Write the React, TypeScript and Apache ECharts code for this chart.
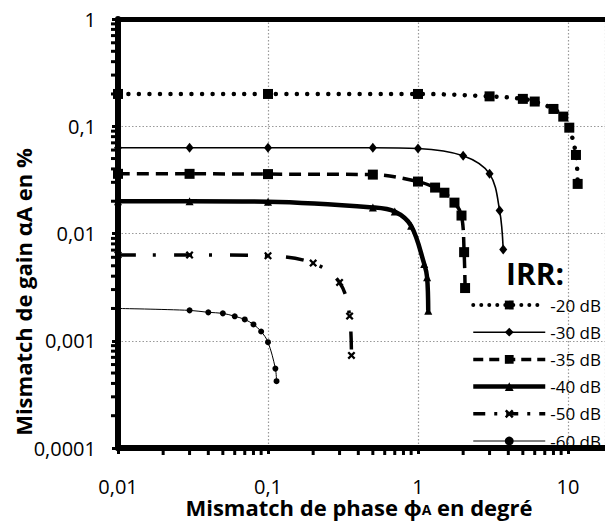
import React, { useEffect, useRef } from 'react';
import * as echarts from 'echarts';

// ---------- data ----------
const seriesNames = ['-20 dB', '-30 dB', '-35 dB', '-40 dB', '-50 dB', '-60 dB'];

const irr20X = [0.01, 0.1, 1, 3, 5, 6, 8, 9.3, 10.2, 11.3, 11.6];
const irr20Y = [0.2, 0.2, 0.2, 0.19, 0.18, 0.17, 0.145, 0.123, 0.097, 0.054, 0.029];

const irr30X = [0.01, 0.03, 0.1, 0.5, 1, 2, 3, 3.5, 3.7];
const irr30Y = [0.063, 0.063, 0.063, 0.063, 0.062, 0.053, 0.036, 0.0164, 0.0071];

const irr35X = [0.01, 0.03, 0.1, 0.5, 1, 1.3, 1.5, 1.75, 1.95, 2.03, 2.06];
const irr35Y = [0.036, 0.036, 0.0358, 0.0354, 0.0305, 0.0268, 0.024, 0.0194, 0.0147, 0.0067, 0.0031];

const irr40X = [0.01, 0.03, 0.1, 0.5, 0.7, 0.9, 1.1, 1.15, 1.17];
const irr40Y = [0.02, 0.02, 0.0198, 0.0175, 0.016, 0.0118, 0.0052, 0.0039, 0.0019];

const irr50X = [0.01, 0.03, 0.1, 0.2, 0.3, 0.35, 0.36];
const irr50Y = [0.0063, 0.0063, 0.0062, 0.0053, 0.0035, 0.0017, 0.00073];

const irr60X = [0.01, 0.03, 0.04, 0.05, 0.06, 0.07, 0.08, 0.09, 0.1, 0.112, 0.114];
const irr60Y = [0.002, 0.00192, 0.00184, 0.0018, 0.00169, 0.00158, 0.00142, 0.00122, 0.00097, 0.00055, 0.00042];

const xTickLabels = ['0,01', '0,1', '1', '10']; // decades 10^-2 .. 10^1
const yTickLabels = ['0,0001', '0,001', '0,01', '0,1', '1']; // decades 10^-4 .. 10^0

const xMinorTicks = [0.02, 0.03, 0.04, 0.05, 0.06, 0.07, 0.08, 0.09, 0.2, 0.3, 0.4, 0.5, 0.6, 0.7, 0.8, 0.9, 2, 3, 4, 5, 6, 7, 8, 9];
const yMinorTicks = [0.0002, 0.0003, 0.0004, 0.0005, 0.0006, 0.0007, 0.0008, 0.0009, 0.002, 0.003, 0.004, 0.005, 0.006, 0.007, 0.008, 0.009, 0.02, 0.03, 0.04, 0.05, 0.06, 0.07, 0.08, 0.09, 0.2, 0.3, 0.4, 0.5, 0.6, 0.7, 0.8, 0.9];

const xMin = 0.01;
const yMin = 0.0001;
const yMax = 1;

// ---------- layout ----------
const W = 605;
const H = 521;
const gridLeft = 118;
const gridTop = 19;
const gridBottomPx = 448;
const decadeX = 150;
const xMax = Math.pow(10, Math.log10(xMin) + (W - gridLeft) / decadeX);

const FONT = '"Open Sans", "Noto Sans", sans-serif';

function decadeLabel(v: number, labels: string[], minExp: number): string {
  const e = Math.log10(v);
  const r = Math.round(e);
  if (Math.abs(e - r) > 1e-6) return '';
  return labels[r - minExp] ?? '';
}

function zip(xs: number[], ys: number[]) {
  return xs.map((x, i) => [x, ys[i]]);
}

const crossPath = 'path://M2,0 L5,3 L8,0 L10,2 L7,5 L10,8 L8,10 L5,7 L2,10 L0,8 L3,5 L0,2 Z';

const styles: any[] = [
  { symbol: 'rect', symbolSize: 10, lineStyle: { color: '#000', width: 4.5, type: [0.01, 10.5], cap: 'round' } },
  { symbol: 'diamond', symbolSize: [8, 10], lineStyle: { color: '#000', width: 1.6, type: 'solid' } },
  { symbol: 'rect', symbolSize: 10, lineStyle: { color: '#000', width: 3.5, type: [12, 7] } },
  { symbol: 'triangle', symbolSize: 8, lineStyle: { color: '#000', width: 4.5, type: 'solid' } },
  { symbol: crossPath, symbolSize: 8, lineStyle: { color: '#000', width: 3.5, type: [18, 17, 3, 18] } },
  { symbol: 'circle', symbolSize: 6, lineStyle: { color: '#000', width: 1, type: 'solid' } },
];

const legendLineStyles: any[] = [
  { color: '#000', width: 4, type: [0.01, 8], cap: 'round' },
  { color: '#000', width: 1.6, type: 'solid' },
  { color: '#000', width: 3.5, type: [10, 6] },
  { color: '#000', width: 4.5, type: 'solid' },
  { color: '#000', width: 3.5, type: [12, 9, 3, 9] },
  { color: '#000', width: 1, type: 'solid' },
];

export default function App() {
  const ref = useRef<HTMLDivElement>(null);

  useEffect(() => {
    if (!ref.current) return;
    const chart = echarts.init(ref.current, null, { renderer: 'svg' });

    const allData = [
      zip(irr20X, irr20Y),
      zip(irr30X, irr30Y),
      zip(irr35X, irr35Y),
      zip(irr40X, irr40Y),
      zip(irr50X, irr50Y),
      zip(irr60X, irr60Y),
    ];

    const lineSeries = seriesNames.map((name, i) => ({
      type: 'line',
      name,
      data: allData[i],
      smooth: 0.35,
      color: '#000',
      itemStyle: { color: '#000' },
      showSymbol: true,
      z: 5,
      ...styles[i],
    }));

    const option: any = {
      animation: false,
      backgroundColor: '#fff',
      grid: { left: gridLeft, top: gridTop, right: 0, bottom: H - gridBottomPx, containLabel: false },
      xAxis: [
        {
          type: 'log',
          logBase: 10,
          min: xMin,
          max: xMax,
          position: 'bottom',
          axisLine: { show: true, onZero: false, lineStyle: { color: '#000', width: 6 } },
          axisTick: { show: true, inside: false, length: 6, lineStyle: { color: '#000', width: 3 } },
          axisLabel: {
            margin: 30,
            fontFamily: FONT,
            fontSize: 20,
            lineHeight: 16,
            color: '#000',
            showMaxLabel: false,
            formatter: (v: number) => decadeLabel(v, xTickLabels, -2),
          },
          splitLine: { show: true, lineStyle: { color: '#999', width: 1.2, type: [1.5, 2] } },
        },
        {
          type: 'log',
          logBase: 10,
          min: xMin,
          max: xMax,
          position: 'top',
          axisLine: { show: true, onZero: false, lineStyle: { color: '#000', width: 5 } },
          axisTick: { show: false },
          axisLabel: { show: false },
          splitLine: { show: false },
        },
      ],
      yAxis: {
        type: 'log',
        logBase: 10,
        min: yMin,
        max: yMax,
        axisLine: { show: true, onZero: false, lineStyle: { color: '#000', width: 6 } },
        axisTick: { show: true, inside: false, length: 6, lineStyle: { color: '#000', width: 3 } },
        axisLabel: {
          margin: 22,
          fontFamily: FONT,
          fontSize: 20,
          color: '#000',
          formatter: (v: number) => decadeLabel(v, yTickLabels, -4),
        },
        splitLine: { show: true, lineStyle: { color: '#999', width: 1.2, type: [1.5, 2] } },
      },
      legend: {
        data: seriesNames.map((name, i) => ({ name, lineStyle: legendLineStyles[i] })),
        orient: 'vertical',
        left: 466,
        top: 291,
        itemWidth: 72,
        itemHeight: 11,
        itemGap: 9.2,
        textStyle: { fontFamily: FONT, fontSize: 17, lineHeight: 18, color: '#000' },
      },
      graphic: [
        {
          type: 'text',
          x: 506,
          y: 273,
          z: 10,
          style: {
            text: 'IRR:',
            fontFamily: FONT,
            fontWeight: 'bold',
            fontSize: 30,
            fill: '#000',
            verticalAlign: 'middle',
            align: 'left',
          },
        },
        {
          type: 'text',
          x: 359,
          y: 507,
          style: {
            text: 'Mismatch de phase ϕ{s|A} en degré',
            fontFamily: FONT,
            fontWeight: 'bold',
            fontSize: 22,
            lineHeight: 12,
            fill: '#000',
            align: 'center',
            verticalAlign: 'middle',
            rich: { s: { fontFamily: FONT, fontWeight: 'bold', fontSize: 14, lineHeight: 12, fill: '#000', padding: [5, 0, 0, 0] } },
          },
        },
        {
          type: 'text',
          x: 23,
          y: 292,
          rotation: Math.PI / 2,
          style: {
            text: 'Mismatch de gain αA en %',
            fontFamily: FONT,
            fontWeight: 'bold',
            fontSize: 22,
            fill: '#000',
            align: 'center',
            verticalAlign: 'middle',
          },
        },
      ],
      series: [
        ...lineSeries,
        {
          type: 'custom',
          name: 'xminor',
          xAxisIndex: 0,
          yAxisIndex: 0,
          clip: false,
          silent: true,
          z: 6,
          data: xMinorTicks.map((v) => [v, yMin]),
          renderItem: (_p: any, api: any) => {
            const pt = api.coord([api.value(0), api.value(1)]);
            return {
              type: 'line',
              shape: { x1: pt[0], y1: pt[1] + 2, x2: pt[0], y2: pt[1] + 7 },
              style: { stroke: '#000', lineWidth: 3 },
            };
          },
        },
        {
          type: 'custom',
          name: 'yminor',
          xAxisIndex: 0,
          yAxisIndex: 0,
          clip: false,
          silent: true,
          z: 6,
          data: yMinorTicks.map((v) => [xMin, v]),
          renderItem: (_p: any, api: any) => {
            const pt = api.coord([api.value(0), api.value(1)]);
            return {
              type: 'line',
              shape: { x1: pt[0] - 2, y1: pt[1], x2: pt[0] - 7, y2: pt[1] },
              style: { stroke: '#000', lineWidth: 3 },
            };
          },
        },
      ],
    };

    chart.setOption(option);
    return () => chart.dispose();
  }, []);

  return (
    <div
      ref={ref}
      style={{ position: 'fixed', left: 0, top: 0, width: W, height: H, background: '#fff' }}
    />
  );
}
